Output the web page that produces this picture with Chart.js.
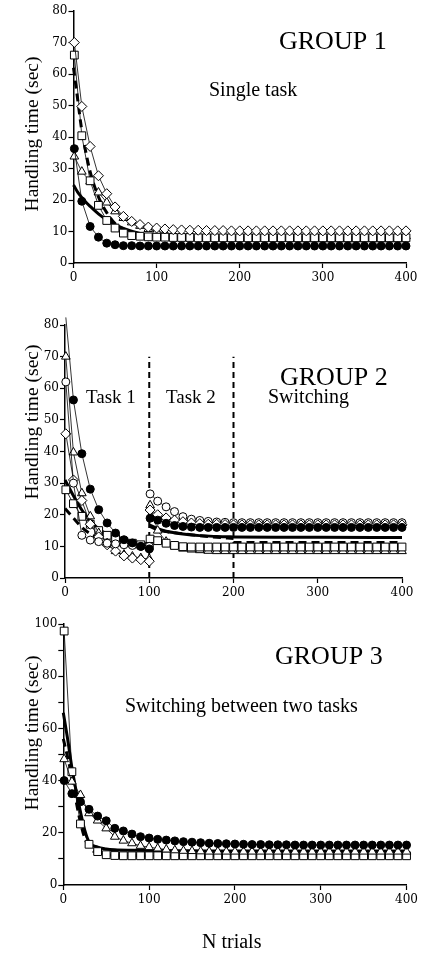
<!DOCTYPE html>
<html>
<head>
<meta charset="utf-8">
<script src="https://cdn.jsdelivr.net/npm/chart.js@4.4.1/dist/chart.umd.min.js"></script>
<style>
    html, body { margin: 0; padding: 0; background: #fff; }
    body { width: 421px; height: 954px; position: relative; overflow: hidden; }
    canvas { position: absolute; left: 0; }
</style>
</head>
<body>
<canvas id="group1" width="421" height="300" style="top:0px"></canvas>
<canvas id="group2" width="421" height="310" style="top:300px"></canvas>
<canvas id="group3" width="421" height="344" style="top:610px"></canvas>
<script>
// Trial numbers (one point every 10 trials)
const TRIALS = [
    1, 10, 20, 30, 40, 50, 60, 70, 80, 90,
    100, 110, 120, 130, 140, 150, 160, 170, 180, 190,
    200, 210, 220, 230, 240, 250, 260, 270, 280, 290,
    300, 310, 320, 330, 340, 350, 360, 370, 380, 390,
    400
];
const X_TICKS = [0, 100, 200, 300, 400];

// ---- Group 1: single task ----
const G1_DIAMOND = [
    70, 49.7, 37, 27.7, 22, 17.8, 14.8, 13.2, 12.2, 11.4,
    11.1, 10.8, 10.6, 10.5, 10.4, 10.4, 10.3, 10.3, 10.3, 10.2,
    10.2, 10.2, 10.2, 10.2, 10.2, 10.2, 10.2, 10.2, 10.2, 10.2,
    10.2, 10.2, 10.2, 10.2, 10.2, 10.2, 10.2, 10.2, 10.2, 10.2,
    10.2
];
const G1_SQUARE = [
    66, 40.4, 26.1, 18.3, 13.5, 11.1, 9.5, 8.7, 8.5, 8.3,
    8.2, 8.2, 8.1, 8.1, 8.1, 8, 8, 8, 8, 8,
    8, 8, 8, 8, 8, 8, 8, 8, 8, 8,
    8, 8, 8, 8, 8, 8, 8, 8, 8, 8,
    8
];
const G1_TRIANGLE = [
    33.8, 29, 25.9, 22.4, 19.2, 16.4, 14.3, 12.9, 11.8, 10.8,
    10.1, 9.6, 9.2, 8.9, 8.7, 8.6, 8.5, 8.5, 8.5, 8.5,
    8.5, 8.5, 8.5, 8.5, 8.5, 8.5, 8.5, 8.5, 8.5, 8.5,
    8.5, 8.5, 8.5, 8.5, 8.5, 8.5, 8.5, 8.5, 8.5, 8.5,
    8.5
];
const G1_CIRCLE = [
    36.3, 19.6, 11.6, 8.2, 6.3, 5.8, 5.5, 5.5, 5.4, 5.4,
    5.4, 5.4, 5.4, 5.4, 5.4, 5.4, 5.4, 5.4, 5.4, 5.4,
    5.4, 5.4, 5.4, 5.4, 5.4, 5.4, 5.4, 5.4, 5.4, 5.4,
    5.4, 5.4, 5.4, 5.4, 5.4, 5.4, 5.4, 5.4, 5.4, 5.4,
    5.4
];
const G1_FIT_X = [0, 5, 10, 15, 20, 30, 40, 50, 60, 80, 100, 125, 150, 200, 300, 400];
const G1_FIT_SOLID = [24.8, 22.5, 20.8, 19.3, 18, 15.6, 13.7, 12.2, 11, 9.4, 8.4, 7.8, 7.4, 7.2, 7.1, 7.1];
const G1_FIT_DASHED = [62, 52, 42, 35, 29, 21, 16, 12.5, 10.8, 9.2, 8.6, 8.3, 8.2, 8.1, 8, 8];

// ---- Group 2: task 1, task 2, switching ----
const TASK1_X = [1, 10, 20, 30, 40, 50, 60, 70, 80, 90, 100];
const G2_T1_CIRCLE = [82.4, 56.3, 39.3, 28.1, 21.6, 17.4, 14.2, 12.1, 11.1, 10, 9.2];
const G2_T1_TRIANGLE = [70, 39.7, 26.8, 19.5, 14.2, 11, 8.5, 7.4, 6.8, 6.3, 6];
const G2_T1_OPEN = [62, 30, 13.5, 12, 11.5, 11, 10.8, 10.5, 10.3, 10, 10];
const G2_T1_DIAMOND = [45.6, 31, 24.5, 17, 13, 10.5, 8.5, 7, 6.3, 5.8, 5.3];
const G2_T1_SQUARE = [27.9, 23.5, 19.5, 17, 15, 13.5, 12.5, 11.5, 11, 10.5, 10];

const LATER_X = [
    101, 110, 120, 130, 140, 150, 160, 170, 180, 190,
    200, 210, 220, 230, 240, 250, 260, 270, 280, 290,
    300, 310, 320, 330, 340, 350, 360, 370, 380, 390,
    400
];
const G2_L_CIRCLE = [
    18.9, 18.3, 17.3, 16.6, 16.3, 16.1, 16, 16, 16, 16,
    16, 16, 16, 16, 16, 16, 16, 16, 16, 16,
    16, 16, 16, 16, 16, 16, 16, 16, 16, 16,
    16
];
const G2_L_OPEN = [
    26.6, 24.3, 22.5, 21, 19.4, 18.6, 18.2, 17.9, 17.7, 17.6,
    17.5, 17.5, 17.5, 17.5, 17.5, 17.5, 17.5, 17.5, 17.5, 17.5,
    17.5, 17.5, 17.5, 17.5, 17.5, 17.5, 17.5, 17.5, 17.5, 17.5,
    17.5
];
const G2_L_DIAMOND = [
    21.5, 20, 19, 18.3, 17.8, 17.4, 17.2, 17, 17, 16.9,
    16.8, 16.8, 16.8, 16.8, 16.8, 16.8, 16.8, 16.8, 16.8, 16.8,
    16.8, 16.8, 16.8, 16.8, 16.8, 16.8, 16.8, 16.8, 16.8, 16.8,
    16.8
];
const G2_L_SQUARE = [
    12.3, 11.8, 11, 10.3, 9.9, 9.8, 9.8, 9.8, 9.8, 9.8,
    9.8, 9.8, 9.8, 9.8, 9.8, 9.8, 9.8, 9.8, 9.8, 9.8,
    9.8, 9.8, 9.8, 9.8, 9.8, 9.8, 9.8, 9.8, 9.8, 9.8,
    9.8
];
const G2_L_TRIANGLE = [
    23, 15, 11.5, 10, 9.3, 9, 8.8, 8.6, 8.5, 8.5,
    8.5, 8.5, 8.5, 8.5, 8.5, 8.5, 8.5, 8.5, 8.5, 8.5,
    8.5, 8.5, 8.5, 8.5, 8.5, 8.5, 8.5, 8.5, 8.5, 8.5,
    8.5
];
const G2_FIT1_X = [0, 10, 20, 30, 40, 50, 60, 70, 80, 90, 100];
const G2_FIT1_SOLID = [31, 26, 21.5, 18, 15.5, 13.8, 12.6, 11.8, 11.2, 10.8, 10.5];
const G2_FIT1_DASHED = [22, 19, 16, 14, 12.5, 11.5, 10.8, 10.3, 10, 9.8, 9.6];
const G2_FIT2_X = [100, 110, 120, 130, 140, 150, 160, 180, 200, 250, 300, 400];
const G2_FIT2_SOLID = [16.8, 15.6, 14.8, 14.3, 13.9, 13.6, 13.4, 13.1, 13, 12.9, 12.9, 12.8];
const G2_FIT2_DASHED_X = [100, 110, 120, 140, 160, 180, 200];
const G2_FIT2_DASHED = [16.4, 15.2, 14.7, 14, 13.4, 12.9, 12.5];
const G2_FIT3_DASHED_X = [200, 400];
const G2_FIT3_DASHED = [11.2, 11.2];
const BLOCK_BOUNDS = [100, 200];
const BOUND_TOP = 70;

// ---- Group 3: switching between two tasks ----
const G3_SQUARE = [
    97.3, 43.4, 23.4, 15.6, 12.8, 11.6, 11.3, 11.2, 11.2, 11.2,
    11.2, 11.2, 11.2, 11.2, 11.2, 11.2, 11.2, 11.2, 11.2, 11.2,
    11.2, 11.2, 11.2, 11.2, 11.2, 11.2, 11.2, 11.2, 11.2, 11.2,
    11.2, 11.2, 11.2, 11.2, 11.2, 11.2, 11.2, 11.2, 11.2, 11.2,
    11.2
];
const G3_TRIANGLE = [
    48.2, 39.6, 34.5, 27.5, 24.7, 21.7, 18.5, 17, 16, 15,
    14.5, 14, 13.6, 13.3, 13.1, 13, 12.9, 12.8, 12.8, 12.8,
    12.8, 12.8, 12.8, 12.8, 12.8, 12.8, 12.8, 12.8, 12.8, 12.8,
    12.8, 12.8, 12.8, 12.8, 12.8, 12.8, 12.8, 12.8, 12.8, 12.8,
    12.8
];
const G3_CIRCLE = [
    40, 35, 31.9, 29, 26.4, 24.6, 21.7, 20.7, 19.5, 18.5,
    18, 17.5, 17.2, 16.9, 16.6, 16.4, 16.2, 16, 15.9, 15.8,
    15.7, 15.6, 15.5, 15.5, 15.4, 15.4, 15.4, 15.3, 15.3, 15.3,
    15.3, 15.3, 15.3, 15.3, 15.3, 15.3, 15.3, 15.3, 15.3, 15.3,
    15.3
];
const G3_FIT_X = [0, 5, 10, 15, 20, 25, 30, 40, 50, 60, 80, 100, 150, 200, 300, 400];
const G3_FIT_SOLID = [66, 56, 45, 36, 28, 21, 16.5, 14.5, 13.8, 13.5, 13.3, 13.2, 13.1, 13, 13, 13];
const G3_FIT_DASHED = [56, 49, 41.5, 32, 24, 18, 14.5, 12.2, 11.6, 11.4, 11.3, 11.2, 11.2, 11.2, 11.2, 11.2];

const SERIF = "'Liberation Serif', 'Times New Roman', serif";
const TICK_FONT = { family: "'DejaVu Serif', serif", size: 12 };

function pts(xs, ys) {
    return xs.map((x, i) => ({ x: x, y: ys[i] }));
}

function markers(xs, ys, style, radius, filled) {
    return {
        data: pts(xs, ys),
        showLine: true,
        borderColor: '#000',
        borderWidth: 0.8,
        pointStyle: style,
        pointRadius: radius,
        pointBackgroundColor: filled ? '#000' : '#fff',
        pointBorderColor: '#000',
        pointBorderWidth: 1,
        clip: false,
        order: 1
    };
}

function fitLine(xs, ys, dashed) {
    return {
        data: pts(xs, ys),
        showLine: true,
        borderColor: '#000',
        borderWidth: 3,
        borderDash: dashed ? [8, 5] : [],
        pointRadius: 0,
        cubicInterpolationMode: 'monotone',
        clip: false,
        order: 2
    };
}

// Draws headings, labels and the rotated y title
const textPlugin = {
    id: 'panelText',
    afterDraw(chart, args, opts) {
        const ctx = chart.ctx;
        ctx.save();
        ctx.fillStyle = '#000';
        opts.items.forEach(t => {
            ctx.font = t.size + 'px ' + SERIF;
            if (t.rotate) {
                ctx.save();
                ctx.translate(t.x, t.y);
                ctx.rotate(-Math.PI / 2);
                ctx.textAlign = 'center';
                ctx.textBaseline = 'middle';
                ctx.fillText(t.text, 0, 0);
                ctx.restore();
            } else {
                ctx.textAlign = 'left';
                ctx.textBaseline = 'alphabetic';
                ctx.fillText(t.text, t.x, t.y);
            }
        });
        ctx.restore();
    }
};

function makePanel(id, datasets, yMax, yStep, yLabelEvery, pad, items) {
    new Chart(document.getElementById(id), {
        type: 'scatter',
        data: { datasets: datasets },
        options: {
            responsive: false,
            animation: false,
            devicePixelRatio: 1,
            layout: { padding: pad },
            plugins: {
                legend: { display: false },
                tooltip: { enabled: false },
                panelText: { items: items }
            },
            scales: {
                x: {
                    type: 'linear',
                    min: 0,
                    max: 400,
                    afterFit: s => { s.height = 25; },
                    afterBuildTicks: s => { s.ticks = X_TICKS.map(v => ({ value: v })); },
                    border: { color: '#000', width: 1.5 },
                    grid: { drawOnChartArea: false, drawTicks: true, tickLength: 5, color: '#000', tickWidth: 1.2 },
                    ticks: { color: '#000', font: TICK_FONT, padding: 3, maxRotation: 0, autoSkip: false }
                },
                y: {
                    min: 0,
                    max: yMax,
                    afterFit: s => { s.width = 30; },
                    border: { color: '#000', width: 1.5 },
                    grid: { drawOnChartArea: false, drawTicks: true, tickLength: 5, color: '#000', tickWidth: 1.2 },
                    ticks: {
                        stepSize: yStep,
                        color: '#000',
                        font: TICK_FONT,
                        padding: 1,
                        autoSkip: false,
                        callback: v => (v % yLabelEvery === 0 ? v : '')
                    }
                }
            }
        },
        plugins: [textPlugin]
    });
}

// Group 1
makePanel('group1', [
    markers(TRIALS, G1_CIRCLE, 'circle', 4, true),
    markers(TRIALS, G1_DIAMOND, 'rectRot', 5, false),
    markers(TRIALS, G1_SQUARE, 'rect', 5.5, false),
    markers(TRIALS, G1_TRIANGLE, 'triangle', 5, false),
    fitLine(G1_FIT_X, G1_FIT_SOLID, false),
    fitLine(G1_FIT_X, G1_FIT_DASHED, true)
], 80, 10, 10, { left: 43.5, right: 15, top: 11, bottom: 12 }, [
    { text: 'GROUP 1', x: 279, y: 49, size: 26 },
    { text: 'Single task', x: 209, y: 96, size: 20 },
    { text: 'Handling time (sec)', x: 33, y: 134, size: 19.5, rotate: true }
]);

// Group 2
const boundLines = BLOCK_BOUNDS.map(b => ({
    data: [{ x: b, y: 0 }, { x: b, y: BOUND_TOP }],
    showLine: true,
    borderColor: '#000',
    borderWidth: 2,
    borderDash: [6, 4],
    pointRadius: 0,
    order: 3
}));
makePanel('group2', [
    markers(TASK1_X, G2_T1_CIRCLE, 'circle', 4, true),
    markers(TASK1_X, G2_T1_OPEN, 'circle', 4, false),
    markers(TASK1_X, G2_T1_DIAMOND, 'rectRot', 5, false),
    markers(TASK1_X, G2_T1_TRIANGLE, 'triangle', 5, false),
    markers(TASK1_X, G2_T1_SQUARE, 'rect', 5.5, false),
    markers(LATER_X, G2_L_CIRCLE, 'circle', 4, true),
    markers(LATER_X, G2_L_DIAMOND, 'rectRot', 5, false),
    markers(LATER_X, G2_L_OPEN, 'circle', 4, false),
    markers(LATER_X, G2_L_SQUARE, 'rect', 5.5, false),
    markers(LATER_X, G2_L_TRIANGLE, 'triangle', 5, false),
    fitLine(G2_FIT1_X, G2_FIT1_SOLID, false),
    fitLine(G2_FIT1_X, G2_FIT1_DASHED, true),
    fitLine(G2_FIT2_X, G2_FIT2_SOLID, false),
    fitLine(G2_FIT2_DASHED_X, G2_FIT2_DASHED, true),
    fitLine(G2_FIT3_DASHED_X, G2_FIT3_DASHED, true)
].concat(boundLines), 80, 10, 10, { left: 35, right: 19, top: 25, bottom: 7 }, [
    { text: 'GROUP 2', x: 280, y: 85, size: 26 },
    { text: 'Task 1', x: 86, y: 103, size: 19 },
    { text: 'Task 2', x: 166, y: 103, size: 19 },
    { text: 'Switching', x: 268, y: 103, size: 20 },
    { text: 'Handling time (sec)', x: 33, y: 122, size: 19.5, rotate: true }
]);

// Group 3
makePanel('group3', [
    markers(TRIALS, G3_CIRCLE, 'circle', 4, true),
    markers(TRIALS, G3_TRIANGLE, 'triangle', 5, false),
    markers(TRIALS, G3_SQUARE, 'rect', 5.5, false),
    fitLine(G3_FIT_X, G3_FIT_SOLID, false),
    fitLine(G3_FIT_X, G3_FIT_DASHED, true)
], 100, 10, 20, { left: 33.3, right: 13, top: 14, bottom: 44 }, [
    { text: 'GROUP 3', x: 275, y: 54, size: 26 },
    { text: 'Switching between two tasks', x: 125, y: 102, size: 20 },
    { text: 'Handling time (sec)', x: 33, y: 123, size: 19.5, rotate: true },
    { text: 'N trials', x: 202, y: 338, size: 20 }
]);
</script>
</body>
</html>
